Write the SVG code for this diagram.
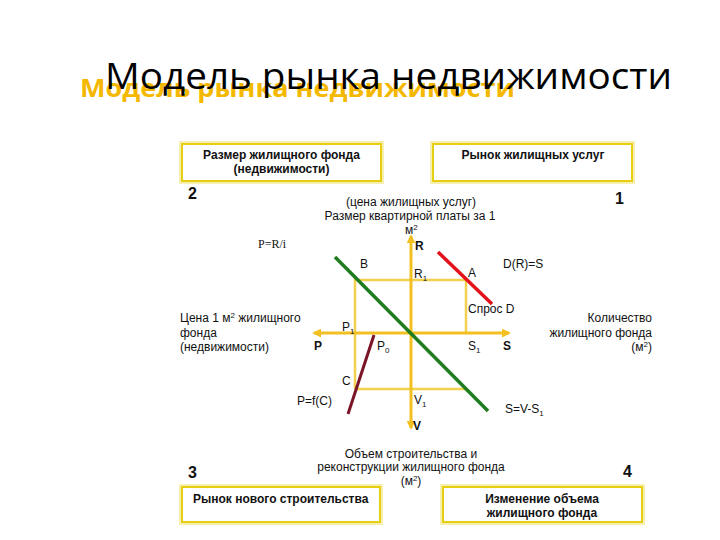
<svg xmlns="http://www.w3.org/2000/svg" width="720" height="540" viewBox="0 0 720 540">
<defs>
<style>
.t{font-family:"Liberation Sans",Arial,sans-serif;font-size:12px;fill:#111}
.b{font-family:"Liberation Sans",Arial,sans-serif;font-size:12px;font-weight:bold;fill:#111}
.n{font-family:"Liberation Sans",Arial,sans-serif;font-size:16px;font-weight:bold;fill:#111}
.box{fill:#fff;stroke:#e6cf10;stroke-width:2}
.glow{fill:none;stroke:#f6efb0;stroke-width:2}
.ax{stroke:#f2c020;stroke-width:3;fill:none}
.rl{stroke:#f2d050;stroke-width:2.5;fill:none}
</style>
<marker id="ah" viewBox="0 0 10 10" refX="8" refY="5" markerWidth="3" markerHeight="3" orient="auto-start-reverse">
<path d="M0,0 L10,5 L0,10 z" fill="#f2c020"/>
</marker>
</defs>
<rect width="720" height="540" fill="#fff"/>
<g id="title">
<text x="80" y="97" font-family="'Open Sans','DejaVu Sans',sans-serif" font-size="25" font-weight="bold" fill="#f4b800" textLength="435" lengthAdjust="spacingAndGlyphs">Модель рынка недвижимости</text>
<text x="105" y="89" font-family="'Open Sans','DejaVu Sans',sans-serif" font-size="37" fill="#000" textLength="567" lengthAdjust="spacingAndGlyphs">Модель рынка недвижимости</text>
</g>
<g id="box2">
<rect class="glow" x="180" y="142" width="203" height="41"/>
<rect class="box" x="182" y="144" width="199" height="37"/>
<text class="b" x="281.5" y="159" text-anchor="middle">Размер жилищного фонда</text>
<text class="b" x="281.5" y="173" text-anchor="middle">(недвижимости)</text>
</g>
<g id="box1">
<rect class="glow" x="431" y="142" width="203" height="41"/>
<rect class="box" x="433" y="144" width="199" height="37"/>
<text class="b" x="533" y="159" text-anchor="middle">Рынок жилищных услуг</text>
</g>
<g id="box3">
<rect class="glow" x="180" y="485" width="202" height="39"/>
<rect class="box" x="182" y="487" width="198" height="35"/>
<text class="b" x="193" y="503">Рынок нового строительства</text>
</g>
<g id="box4">
<rect class="glow" x="441" y="485" width="203" height="39"/>
<rect class="box" x="443" y="487" width="199" height="35"/>
<text class="b" x="542" y="503" text-anchor="middle">Изменение объема</text>
<text class="b" x="542" y="517" text-anchor="middle">жилищного фонда</text>
</g>
<g id="numbers">
<text class="n" x="188" y="199" font-size="15">2</text>
<text class="n" x="615" y="204">1</text>
<text class="n" x="188" y="478" font-size="15">3</text>
<text class="n" x="623" y="477" font-size="15">4</text>
</g>
<g id="connectors">
<polyline class="rl" points="355,389 355,280 466,280 466,333"/>
<line class="rl" x1="355" y1="389" x2="466" y2="389"/>
<line class="ax" x1="314" y1="333" x2="509" y2="333" marker-start="url(#ah)" marker-end="url(#ah)"/>
<line class="ax" x1="411" y1="236" x2="411" y2="428" marker-start="url(#ah)" marker-end="url(#ah)"/>
<line x1="335" y1="257" x2="488" y2="411" stroke="#1f7d1f" stroke-width="3.5"/>
<line x1="438" y1="252" x2="492" y2="304" stroke="#e3121a" stroke-width="3.5"/>
<line x1="374" y1="335" x2="348" y2="414" stroke="#7a1426" stroke-width="3"/>
</g>
<g id="labels">
<text class="t" x="411" y="206" text-anchor="middle">(цена жилищных услуг)</text>
<text class="t" x="410" y="220" text-anchor="middle">Размер квартирной платы за 1</text>
<text class="t" x="405" y="234" font-size="11">м<tspan font-size="8" dy="-4">2</tspan></text>
<text x="258" y="248" font-family="'Liberation Serif',serif" font-size="12" fill="#111">P=R/i</text>
<text class="t" x="415" y="250" font-weight="bold">R</text>
<text class="t" x="360" y="268">B</text>
<text class="t" x="414" y="278">R<tspan font-size="8" dy="3">1</tspan></text>
<text class="t" x="468" y="277">A</text>
<text class="t" x="503" y="268">D(R)=S</text>
<text class="t" x="468" y="313">Спрос D</text>
<text class="t" x="180" y="322">Цена 1 м<tspan font-size="8" dy="-4">2</tspan><tspan dy="4"> жилищного</tspan></text>
<text class="t" x="180" y="337">фонда</text>
<text class="t" x="180" y="351">(недвижимости)</text>
<text class="t" x="342" y="331">P<tspan font-size="8" dy="3">1</tspan></text>
<text class="t" x="314" y="350" font-weight="bold" font-family="'Liberation Serif',serif">P</text>
<text class="t" x="377" y="350">P<tspan font-size="8" dy="3">0</tspan></text>
<text class="t" x="468" y="350">S<tspan font-size="8" dy="3">1</tspan></text>
<text class="t" x="503" y="350" font-weight="bold" font-family="'Liberation Serif',serif">S</text>
<text class="t" x="652" y="322" text-anchor="end">Количество</text>
<text class="t" x="652" y="337" text-anchor="end">жилищного фонда</text>
<text class="t" x="652" y="351" text-anchor="end">(м<tspan font-size="8" dy="-4">2</tspan><tspan dy="4">)</tspan></text>
<text class="t" x="342" y="385">C</text>
<text class="t" x="297" y="405">P=f(C)</text>
<text class="t" x="414" y="404">V<tspan font-size="8" dy="3">1</tspan></text>
<text class="t" x="505" y="413">S=V-S<tspan font-size="8" dy="3">1</tspan></text>
<text class="t" x="413" y="430" font-weight="bold">V</text>
<text class="t" x="411" y="458" text-anchor="middle">Объем строительства и</text>
<text class="t" x="411" y="471" text-anchor="middle">реконструкции жилищного фонда</text>
<text class="t" x="411" y="485" text-anchor="middle">(м<tspan font-size="8" dy="-4">2</tspan><tspan dy="4">)</tspan></text>
</g>
</svg>
